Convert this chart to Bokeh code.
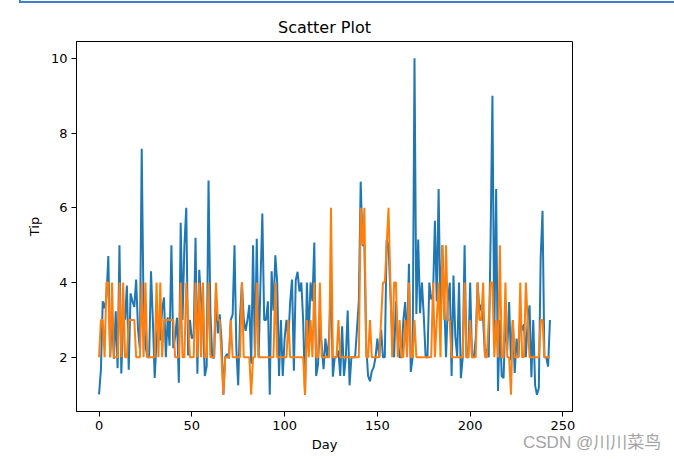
from bokeh.plotting import figure
from bokeh.models import FixedTicker, Range1d, Div
from bokeh.layouts import column
from bokeh.embed import file_html
from bokeh.resources import INLINE

tip = [1.01,1.66,3.5,3.31,3.61,4.71,2.0,3.12,1.96,3.23,1.71,5.0,1.57,3.0,3.02,3.92,1.67,3.71,3.5,
       3.35,4.08,2.75,2.23,7.58,3.18,2.34,2.0,2.0,4.3,3.0,1.45,2.5,3.0,2.45,3.27,3.6,2.0,3.07,2.31,5.0,2.24,
       2.54,3.06,1.32,5.6,3.0,5.0,6.0,2.05,3.0,2.5,2.6,5.2,1.56,4.34,3.51,
       3.0,1.5,1.76,6.73,3.21,2.0,1.98,3.76,2.64,3.15,2.47,1.0,2.01,2.09,1.97,3.0,3.14,5.0,2.2,1.25,3.08,
       4.0,3.0,2.71,3.0,3.4,1.83,5.0,2.03,5.17,2.0,4.0,5.85,3.0,
       3.0,3.5,1.0,4.3,3.25,4.73,4.0,1.5,3.0,1.5,2.5,3.0,
       2.5,3.48,4.08,1.64,4.06,4.29,3.76,4.0,3.0,1.0,
       4.0,2.55,4.0,3.5,5.07,
       1.5,1.8,2.92,2.31,1.68,2.5,2.0,2.52,4.2,1.48,2.0,2.0,2.18,1.5,2.83,1.5,2.0,3.25,1.25,2.0,2.0,2.0,
       2.75,3.5,6.7,5.0,5.0,2.3,1.5,1.36,1.63,1.73,2.0,
       2.5,2.0,2.74,2.0,2.0,5.14,5.0,3.75,2.61,2.0,3.5,2.5,2.0,2.0,3.0,3.48,2.24,4.5,
       1.61,2.0,10.0,3.16,
       5.15,3.18,4.0,3.11,2.0,2.0,4.0,3.55,3.68,5.65,3.5,6.5,3.0,5.0,3.5,2.0,3.5,4.0,1.5,
       4.19,2.56,2.02,4.0,1.44,2.0,5.0,2.0,2.0,4.0,2.01,2.0,2.5,4.0,3.23,
       3.41,3.0,2.03,2.23,2.0,5.16,9.0,2.5,6.5,1.1,3.0,1.5,1.44,3.09,
       2.2,3.48,1.92,3.0,1.58,2.5,2.0,
       3.0,2.72,2.88,2.0,3.0,3.39,1.47,3.0,1.25,1.0,1.17,4.67,5.92,2.0,2.0,1.75,3.0]

size = [2,3,3,2,4,4,2,4,2,2,2,4,2,4,2,2,3,3,3,
        3,2,2,2,4,2,4,2,2,2,2,2,4,2,4,2,3,3,3,3,3,3,
        2,2,2,4,2,2,4,3,2,2,2,4,2,4,2,
        4,2,2,4,2,2,2,4,3,3,2,1,2,2,2,3,2,2,2,2,2,
        4,2,2,2,2,1,2,2,4,2,2,2,2,
        2,2,2,2,2,4,2,2,2,2,2,2,
        3,2,2,2,2,2,2,2,2,1,
        3,2,3,2,4,
        2,2,4,2,2,2,2,2,6,2,2,2,3,2,2,2,2,2,2,2,2,2,
        2,2,6,5,6,2,2,3,2,2,2,
        2,2,3,4,4,5,6,4,2,4,4,2,3,2,2,3,2,4,
        2,2,3,2,
        2,2,2,2,2,2,2,2,4,2,3,4,2,5,3,5,3,3,2,
        2,2,2,2,2,2,4,2,2,3,2,2,2,4,3,
        3,4,2,2,3,4,4,2,3,2,5,2,2,4,
        2,2,1,3,2,2,2,
        4,2,2,4,3,2,2,2,2,2,2,3,3,2,2,2,2]

day = list(range(len(tip)))

x_ticks = [0, 50, 100, 150, 200, 250]
y_ticks = [2, 4, 6, 8, 10]

n = len(tip)
xlo, xhi = -0.05 * (n - 1), (n - 1) * 1.05
ymin, ymax = min(min(tip), min(size)), max(max(tip), max(size))
ylo, yhi = ymin - 0.05 * (ymax - ymin), ymax + 0.05 * (ymax - ymin)

W, H = 674, 459
FL, FR, FT, FB = 76, 572, 41, 411

p = figure(width=W, height=H, output_backend="svg", toolbar_location=None,
           x_range=Range1d(xlo, xhi), y_range=Range1d(ylo, yhi),
           min_border_left=FL, min_border_right=W - FR, min_border_top=FT, min_border_bottom=H - FB)
p.background_fill_color = "white"
p.border_fill_color = "white"
p.outline_line_color = "black"
p.outline_line_width = 1
p.xgrid.visible = False
p.ygrid.visible = False

p.title.text = "Scatter Plot"
p.title.align = "center"
p.title.text_font = "DejaVu Sans"
p.title.text_font_size = "16px"
p.title.text_font_style = "normal"
p.title.text_color = "black"
p.title.standoff = 10

for ax in (p.xaxis[0], p.yaxis[0]):
    ax.axis_line_color = "black"
    ax.major_tick_out = 5
    ax.major_tick_in = 0
    ax.minor_tick_line_color = None
    ax.major_label_text_font = "DejaVu Sans"
    ax.major_label_text_font_size = "13px"
    ax.major_label_text_color = "black"
    ax.axis_label_text_font = "DejaVu Sans"
    ax.axis_label_text_font_size = "13px"
    ax.axis_label_text_font_style = "normal"
    ax.axis_label_text_color = "black"
p.xaxis.ticker = FixedTicker(ticks=x_ticks)
p.yaxis.ticker = FixedTicker(ticks=y_ticks)
p.xaxis.axis_label = "Day"
p.yaxis.axis_label = "Tip"
p.xaxis.major_label_standoff = 4
p.yaxis.major_label_standoff = 4
p.xaxis.axis_label_standoff = 4
p.yaxis.axis_label_standoff = 6

p.line(day, tip, line_color="#1f77b4", line_width=2)
p.line(day, size, line_color="#ff7f0e", line_width=2)

watermark = Div(text="CSDN @川川菜鸟",
                styles={"position": "absolute", "left": "523px", "top": "434px",
                        "font-family": "'Liberation Sans', 'Noto Sans CJK SC', sans-serif",
                        "font-size": "17px", "line-height": "1", "color": "#a4a4a4",
                        "white-space": "nowrap", "margin": "0", "padding": "0", "z-index": "5"})
frame_edge = Div(text='<div style="position:absolute; left:19px; top:-17px; width:700px; '
                      'height:20px; border:2px solid #3d7fd0; box-sizing:border-box;"></div>',
                 styles={"position": "absolute", "left": "0px", "top": "0px",
                         "margin": "0", "padding": "0", "z-index": "5"})

layout = column(p, watermark, frame_edge, spacing=0)

open("out.html", "w").write(file_html(layout, INLINE))
